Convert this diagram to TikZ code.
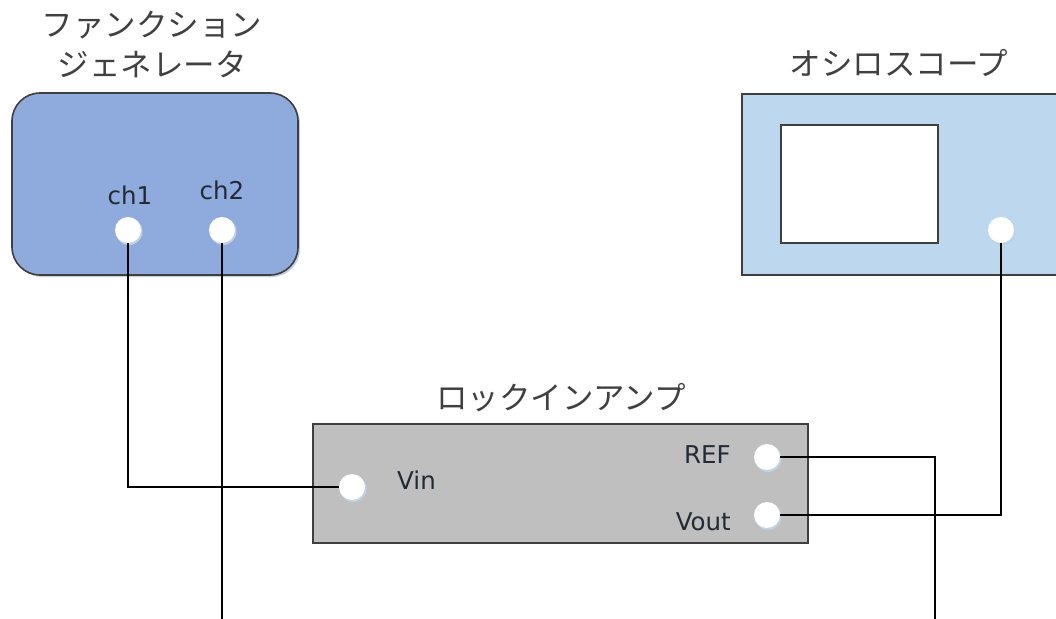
\documentclass[tikz,border=0pt]{standalone}
\usepackage{fontspec}
\newfontfamily\cjk{Noto Sans CJK JP}
\newfontfamily\lab{DejaVu Sans}
\definecolor{fgblue}{HTML}{8FAADC}
\definecolor{scblue}{HTML}{BDD7EE}
\definecolor{lagray}{HTML}{BFBFBF}
\definecolor{edge}{HTML}{3F3F3F}
\definecolor{titlec}{HTML}{404040}
\definecolor{labc}{HTML}{222A36}
\definecolor{shad}{HTML}{C2D0E3}
\tikzset{
  title/.style={font=\cjk\fontsize{31.5}{36}\selectfont, text=titlec, inner sep=0pt},
  lbl/.style={font=\lab\fontsize{24.5}{28}\selectfont, text=labc, inner sep=0pt},
  port/.style={circle, fill=white, draw=none, minimum size=26pt, inner sep=0pt},
  portshadow/.style={circle, fill=shad, minimum size=27pt, inner sep=0pt},
  wire/.style={draw=black, line width=1.5pt},
  panel/.style={draw=edge, line width=1.6pt},
}
\begin{document}
\begin{tikzpicture}[x=1pt, y=-1pt]
\useasboundingbox (0,0) rectangle (1056,618);
\clip (0,0) rectangle (1056,618);
% titles
\node[title] (fgt1) at (152,25) {ファンクション};
\node[title] (fgt2) at (152,64) {ジェネレータ};
\node[title] (sct) at (899,63) {オシロスコープ};
\node[title] (lat) at (561,398) {ロックインアンプ};
% shadows of panels
\fill[shad, rounded corners=28pt] (14,95) rectangle (300,277);
\fill[shad] (743,95) rectangle (1070,276);
\fill[shad] (314,425) rectangle (809,544);
% function generator
\node[panel, fill=fgblue, rounded corners=28pt, minimum width=286pt, minimum height=182pt, inner sep=0pt] (fg) at (155,184) {};
% oscilloscope
\node[panel, fill=scblue, minimum width=330pt, minimum height=181pt, inner sep=0pt, anchor=north west] (sc) at (741,93) {};
\node[panel, fill=white, minimum width=157pt, minimum height=118pt, inner sep=0pt, anchor=north west] (screen) at (780,124) {};
% lock-in amp
\node[panel, fill=lagray, minimum width=495pt, minimum height=119pt, inner sep=0pt, anchor=north west] (la) at (312,423) {};
% port shadows
\foreach \p in {(129,231.5),(223,231.5),(1002,231.5),(353,488.5),(768,458.5),(768,516.5)}
  \node[portshadow] at \p {};
% ports
\node[port] (ch1) at (128,230) {};
\node[port] (ch2) at (222,230) {};
\node[port] (scin) at (1001,230) {};
\node[port] (vin) at (352,487) {};
\node[port] (ref) at (767,457) {};
\node[port] (vout) at (767,515) {};
% labels
\node[lbl] (ch1l) at (130,195) {ch1};
\node[lbl] (ch2l) at (222,190) {ch2};
\node[lbl, anchor=west] (vinl) at (397,480) {Vin};
\node[lbl, anchor=east] (refl) at (731,455) {REF};
\node[lbl, anchor=east] (voutl) at (731,522) {Vout};
% free ends
\coordinate (ch2end) at (222,620);
\coordinate (refend) at (935,620);
% wires
\draw[wire] (ch1.south) |- (vin.west);
\draw[wire] (ch2.south) -- (ch2end);
\draw[wire] (ref.east) -| (refend);
\draw[wire] (vout.east) -| (scin.south);
\end{tikzpicture}
\end{document}
